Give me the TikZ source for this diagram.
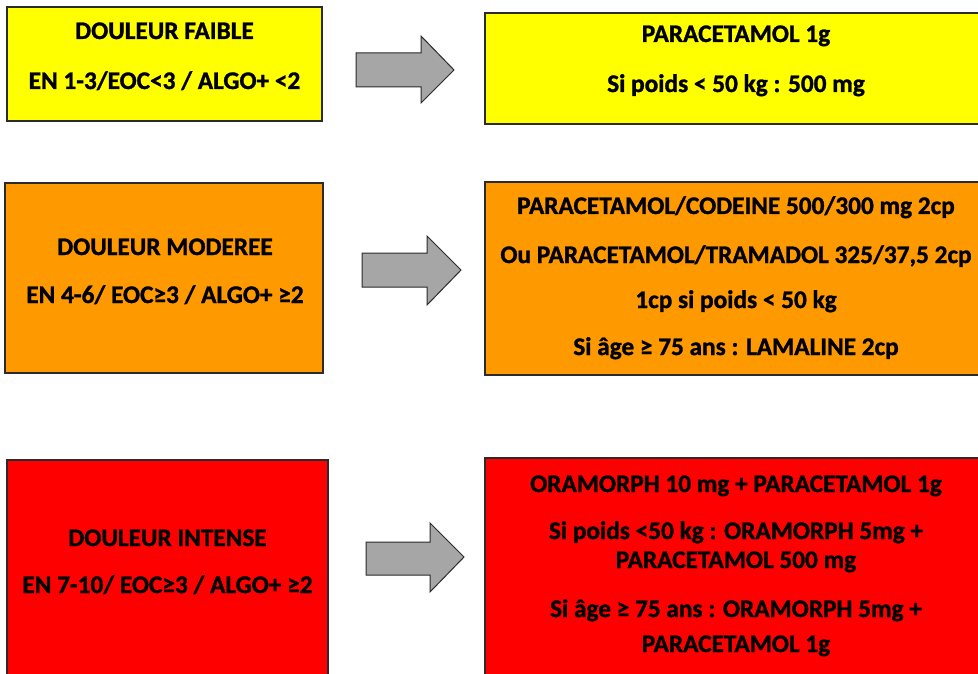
\documentclass[tikz,border=0pt]{standalone}
\usepackage{fontspec}
\setmainfont{Carlito}[BoldFeatures={FakeBold=1.2}]
\definecolor{ylw}{HTML}{FFFF00}
\definecolor{org}{HTML}{FF9900}
\definecolor{rd}{HTML}{FF0000}
\definecolor{arrgray}{HTML}{A6A6A6}
\definecolor{edge}{HTML}{2B2B2B}
\begin{document}
\begin{tikzpicture}[x=1pt,y=-1pt,
  box/.style={draw=edge, line width=1.2pt, anchor=north west, inner sep=0pt, outer sep=0pt},
  txt/.style={anchor=base, font=\fontsize{25.3}{30}\selectfont\bfseries, inner sep=0pt, text=black},
  blockarrow/.style={fill=arrgray, draw=edge, line width=1pt, line join=miter}]
\clip (0,0) rectangle (978,674);
\fill[white] (0,0) rectangle (978,674);
% boxes
\node[box, fill=ylw, minimum width=315pt, minimum height=114pt] (yl) at (7,7) {};
\node[box, fill=ylw, minimum width=502pt, minimum height=111pt] (yr) at (485,13) {};
\node[box, fill=org, minimum width=318pt, minimum height=190pt] (ol) at (5,183) {};
\node[box, fill=org, minimum width=502pt, minimum height=193pt] (or) at (485,182) {};
\node[box, fill=rd, minimum width=321pt, minimum height=250pt] (rl) at (7,460) {};
\node[box, fill=rd, minimum width=502pt, minimum height=250pt] (rr) at (485,458) {};
% block arrows
\draw[blockarrow] (356,53) -- (421,53) -- (421,36) -- (454,70) -- (421,103) -- (421,87) -- (356,87) -- cycle;
\draw[blockarrow] (362,253) -- (427,253) -- (427,236) -- (461,270) -- (427,305) -- (427,287) -- (362,287) -- cycle;
\draw[blockarrow] (366,542) -- (430,542) -- (430,523) -- (464,557) -- (430,592) -- (430,575) -- (366,575) -- cycle;
% texts
\node[txt] (t1) at (164.5,39) {DOULEUR FAIBLE};
\node[txt] (t2) at (164.5,89) {EN 1-3/EOC<3 / ALGO+ <2};
\node[txt] (t3) at (736,42) {PARACETAMOL 1g};
\node[txt] (t4) at (736,92) {Si poids < 50 kg : 500 mg};
\node[txt] (t5) at (165,255) {DOULEUR MODEREE};
\node[txt] (t6) at (165,303) {EN 4-6/ EOC≥3 / ALGO+ ≥2};
\node[txt] (t7) at (736,214) {PARACETAMOL/CODEINE 500/300 mg 2cp};
\node[txt] (t8) at (736,263) {Ou PARACETAMOL/TRAMADOL 325/37,5 2cp};
\node[txt] (t9) at (736,308) {1cp si poids < 50 kg};
\node[txt] (t10) at (736,355) {Si âge ≥ 75 ans : LAMALINE 2cp};
\node[txt] (t11) at (167.5,546) {DOULEUR INTENSE};
\node[txt] (t12) at (167.5,593) {EN 7-10/ EOC≥3 / ALGO+ ≥2};
\node[txt] (t13) at (736,492) {ORAMORPH 10 mg + PARACETAMOL 1g};
\node[txt] (t14) at (736,539) {Si poids <50 kg : ORAMORPH 5mg +};
\node[txt] (t15) at (736,568) {PARACETAMOL 500 mg};
\node[txt] (t16) at (736,617) {Si âge ≥ 75 ans : ORAMORPH 5mg +};
\node[txt] (t17) at (736,652) {PARACETAMOL 1g};
\end{tikzpicture}
\end{document}
